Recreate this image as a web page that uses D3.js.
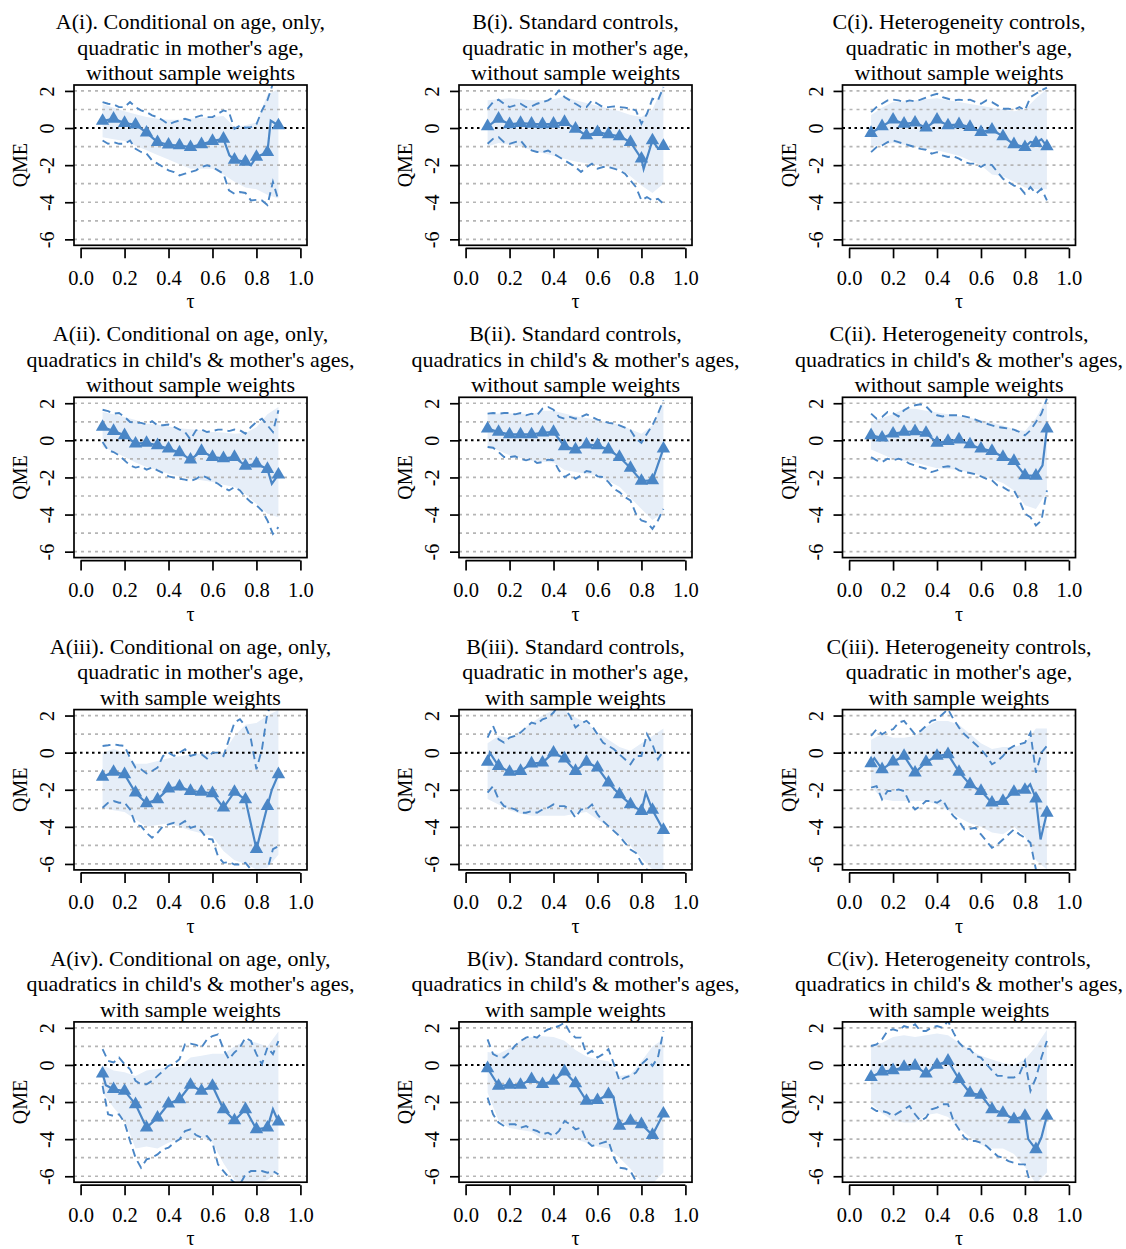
<!DOCTYPE html>
<html>
<head>
<meta charset="utf-8">
<script src="https://cdn.jsdelivr.net/npm/d3@7"></script>
<style>
  body { margin: 0; background: #fff; }
  text { font-family: "Liberation Serif", serif; fill: #000; }
</style>
</head>
<body>
<svg id="chart" width="1126" height="1249"></svg>
<script>
// quantiles where the point estimates are plotted
const taus = [0.10, 0.15, 0.20, 0.25, 0.30, 0.35, 0.40, 0.45, 0.50, 0.55, 0.60, 0.65, 0.70, 0.75, 0.80, 0.85, 0.90];
// finer grid for the dashed pointwise intervals
const tausFine = [0.100, 0.125, 0.150, 0.175, 0.200, 0.225, 0.250, 0.275, 0.300, 0.325, 0.350, 0.375, 0.400, 0.425, 0.450, 0.475, 0.500,
  0.525, 0.550, 0.575, 0.600, 0.625, 0.650, 0.675, 0.700, 0.725, 0.750, 0.775, 0.800, 0.825, 0.850, 0.875, 0.900];
const xTicks = [0, 0.2, 0.4, 0.6, 0.8, 1.0];
const yTicks = [-6, -4, -2, 0, 2];
const gridLevels = [-6, -5, -4, -3, -2, -1, 1, 2];

const colLetters = ["A", "B", "C"];
const colHeads = ["Conditional on age, only,", "Standard controls,", "Heterogeneity controls,"];
const rowNums = ["i", "ii", "iii", "iv"];
const rowLine2 = ["quadratic in mother's age,", "quadratics in child's & mother's ages,", "quadratic in mother's age,", "quadratics in child's & mother's ages,"];
const rowLine3 = ["without sample weights", "without sample weights", "with sample weights", "with sample weights"];

// ---- A(i)
const estA1 = [0.38, 0.5, 0.27, 0.18, -0.25, -0.76, -0.9, -0.94, -1.03, -0.88, -0.7, -0.58, -1.71, -1.82, -1.56, -1.3, 0.14];
const kinkA1 = [[0.677, -1.47], [0.775, -2.0], [0.865, 0.4]];
const upA1 = [1.4, 1.31, 1.28, 1.13, 1.13, 1.4, 1.13, 0.95, 0.86, 0.68, 0.59, 0.41, 0.2, 0.32, 0.41, 0.5, 0.41, 0.59, 0.68, 0.59, 0.59, 0.77, 0.95, 0.86, -0.04, 0.14, 0.02, 0.05, 0.2, 0.95, 1.5, 2.4, 2.9];
const loA1 = [-0.67, -0.85, -0.76, -0.85, -0.85, -0.67, -1.12, -1.29, -1.38, -1.74, -1.92, -2.1, -2.28, -2.37, -2.55, -2.46, -2.37, -2.28, -2.1, -2.01, -2.1, -2.28, -2.46, -3.36, -3.54, -3.45, -3.5, -3.9, -3.87, -3.9, -4.15, -2.9, -3.9];
const bandHiA1 = [1.3, 1.1, 0.9, 0.75, 0.6, 0.5, 0.45, 0.45, 0.5, 0.55, 0.6, 0.65, 0.05, 0.15, 0.3, 1.8, 2.1];
const bandLoA1 = [-0.5, -0.6, -0.7, -0.95, -1.2, -1.45, -1.7, -1.95, -2.2, -2.2, -2.2, -2.5, -2.9, -3.2, -3.3, -3.6, -3.8];

// ---- B(i)
const estB1 = [0.09, 0.5, 0.2, 0.27, 0.23, 0.2, 0.23, 0.32, -0.04, -0.4, -0.22, -0.34, -0.45, -0.76, -1.65, -0.67, -0.97];
const kinkB1 = [[0.81, -2.2], [0.875, -1.1]];
const upB1 = [1.04, 1.4, 1.53, 1.31, 1.13, 1.22, 1.31, 1.13, 1.17, 1.31, 1.4, 1.49, 1.67, 2.03, 1.67, 1.49, 1.31, 1.13, 1.13, 1.49, 1.31, 1.13, 1.13, 1.17, 1.13, 1.1, 1.04, 0.95, 0.23, 0.77, 1.58, 1.49, 2.2];
const loB1 = [-0.85, -0.58, -0.49, -0.76, -0.85, -0.76, -0.67, -1.03, -1.2, -1.29, -1.3, -1.21, -1.38, -1.56, -1.74, -1.92, -2.1, -2.37, -2.1, -1.92, -2.19, -2.1, -2.1, -2.19, -2.28, -2.46, -2.82, -3.18, -3.9, -3.72, -3.9, -3.81, -4.08];
const bandHiB1 = [1.5, 1.55, 1.6, 1.55, 1.5, 1.5, 1.55, 1.7, 1.5, 1.35, 1.2, 1.05, 0.9, 0.7, 0.6, 1.0, 2.3];
const bandLoB1 = [-1.0, -0.8, -0.9, -1.0, -1.2, -1.35, -1.5, -1.65, -1.8, -1.9, -2.0, -2.1, -2.2, -2.6, -3.1, -3.5, -3.0];

// ---- C(i)
const estC1 = [-0.27, 0.09, 0.45, 0.23, 0.29, 0.02, 0.45, 0.14, 0.2, 0.05, -0.22, -0.09, -0.45, -0.88, -1.03, -0.81, -0.99];
const kinkC1 = [[0.825, -0.75], [0.875, -0.6]];
const upC1 = [0.86, 1.13, 1.31, 1.49, 1.53, 1.49, 1.4, 1.49, 1.44, 1.53, 1.64, 1.76, 1.85, 1.67, 1.58, 1.49, 1.53, 1.49, 1.53, 1.4, 1.31, 1.49, 1.4, 1.22, 1.04, 1.04, 0.99, 1.13, 0.95, 1.67, 1.85, 2.03, 2.18];
const loC1 = [-1.3, -1.03, -0.94, -0.76, -0.67, -0.76, -0.85, -0.94, -1.03, -1.12, -1.17, -1.38, -1.3, -1.47, -1.56, -1.53, -1.65, -1.83, -1.92, -1.92, -2.1, -1.92, -2.0, -2.37, -2.73, -2.91, -3.1, -3.18, -3.54, -3.18, -3.54, -3.27, -3.9];
const bandHiC1 = [0.7, 1.1, 1.4, 1.45, 1.5, 1.55, 1.6, 1.5, 1.4, 1.3, 1.2, 1.1, 1.0, 0.9, 1.0, 1.6, 2.1];
const bandLoC1 = [-1.0, -0.9, -0.8, -0.9, -1.0, -1.1, -1.2, -1.35, -1.5, -1.75, -2.0, -2.5, -2.6, -2.9, -3.2, -3.3, -3.3];

// ---- A(ii)
const estA2 = [0.72, 0.5, 0.27, -0.18, -0.14, -0.27, -0.45, -0.65, -1.04, -0.58, -0.9, -0.97, -0.9, -1.37, -1.26, -1.55, -1.85];
const kinkA2 = [[0.87, -2.34]];
const upA2 = [1.65, 1.58, 1.44, 1.47, 1.26, 0.99, 0.95, 0.94, 0.86, 1.03, 0.81, 0.81, 0.85, 0.72, 0.58, 0.45, 0.04, 0.54, 0.58, 0.45, 0.5, 0.58, 0.58, 0.5, 0.58, 0.54, 0.36, 0.72, 0.99, 1.17, 0.81, 0.45, 1.62];
const loA2 = [-0.09, -0.54, -0.63, -0.81, -1.08, -1.35, -1.47, -1.4, -1.58, -1.47, -1.62, -1.76, -1.94, -2.01, -2.07, -2.12, -2.19, -2.08, -1.89, -2.01, -2.19, -2.34, -2.55, -2.7, -2.52, -2.7, -3.06, -3.33, -3.5, -3.78, -4.32, -5.04, -4.68];
const bandHiA2 = [1.53, 1.4, 1.26, 1.1, 0.9, 0.85, 0.75, 0.65, 0.6, 0.55, 0.45, 0.42, 0.36, 0.4, 0.7, 1.4, 1.8];
const bandLoA2 = [-0.36, -0.6, -0.9, -1.2, -1.44, -1.6, -1.8, -1.95, -2.07, -2.15, -2.25, -2.4, -2.52, -2.9, -3.42, -3.96, -4.14];

// ---- B(ii)
const estB2 = [0.63, 0.45, 0.32, 0.32, 0.32, 0.41, 0.45, -0.32, -0.5, -0.23, -0.27, -0.5, -0.9, -1.49, -2.19, -2.16, -0.45];
const kinkB2 = [];
const upB2 = [1.44, 1.47, 1.44, 1.47, 1.47, 1.4, 1.47, 1.35, 1.44, 1.35, 1.71, 1.8, 1.65, 1.26, 1.17, 1.26, 1.17, 1.26, 1.4, 1.26, 1.12, 1.04, 0.94, 0.9, 0.81, 0.68, 0.54, 0.09, -0.14, 0.36, 0.81, 1.44, 2.16];
const loB2 = [-0.36, -0.4, -0.63, -0.9, -0.9, -0.86, -0.99, -1.08, -0.99, -1.22, -1.17, -1.04, -1.08, -1.62, -1.98, -1.8, -2.07, -1.89, -1.65, -1.71, -1.94, -1.98, -2.25, -2.61, -2.79, -3.06, -3.24, -3.96, -4.32, -4.41, -4.77, -4.32, -3.69];
const bandHiB2 = [1.4, 1.45, 1.45, 1.45, 1.4, 1.6, 1.6, 1.45, 1.3, 1.2, 1.1, 0.95, 0.85, 0.6, 0.35, 0.8, 2.2];
const bandLoB2 = [-0.3, -0.55, -0.8, -0.95, -1.1, -1.15, -1.2, -1.6, -1.7, -1.8, -1.9, -2.2, -2.5, -3.1, -3.7, -4.3, -3.9];

// ---- C(ii)
const estC2 = [0.27, 0.14, 0.36, 0.45, 0.49, 0.4, -0.14, -0.04, 0.04, -0.22, -0.45, -0.58, -0.9, -1.12, -1.89, -1.91, 0.63];
const kinkC2 = [[0.88, -1.35]];
const upC2 = [1.44, 1.17, 1.26, 1.53, 1.47, 1.29, 1.62, 1.8, 1.89, 1.94, 1.83, 1.53, 1.35, 1.29, 1.35, 1.35, 1.35, 1.29, 1.22, 1.12, 0.99, 0.9, 0.81, 0.72, 0.68, 0.63, 0.58, 0.45, 0.27, 0.54, 0.99, 1.44, 2.25];
const loC2 = [-0.9, -1.08, -1.17, -0.99, -1.08, -0.99, -1.08, -1.26, -1.35, -1.44, -1.53, -1.71, -1.62, -1.44, -1.4, -1.44, -1.62, -1.71, -1.76, -1.83, -1.94, -2.07, -2.16, -2.43, -2.52, -2.7, -2.7, -3.24, -3.96, -4.14, -4.59, -4.32, -2.7];
const bandHiC2 = [1.0, 1.2, 1.4, 1.7, 1.7, 1.6, 1.5, 1.4, 1.3, 1.2, 1.1, 0.95, 0.8, 0.6, 0.5, 1.2, 2.3];
const bandLoC2 = [-0.5, -0.75, -1.0, -1.1, -1.2, -1.35, -1.5, -1.55, -1.6, -1.75, -1.9, -2.1, -2.3, -2.7, -3.5, -3.7, -2.8];

// ---- A(iii)
const estA3 = [-1.3, -1.04, -1.17, -2.16, -2.73, -2.52, -1.94, -1.83, -2.07, -2.12, -2.19, -2.97, -2.12, -2.52, -5.2, -2.88, -1.17];
const kinkA3 = [[0.87, -2.0]];
const upA3 = [0.36, 0.4, 0.45, 0.4, 0.36, -0.3, -0.81, -0.9, -1.12, -0.99, -0.81, -0.18, 0.0, -0.18, 0.0, 0.18, -0.18, -0.09, -0.09, -0.32, 0.0, 0.0, -0.18, 0.72, 1.62, 1.8, 1.44, 0.72, -0.9, 0.18, 2.16, 2.7, 3.5];
const loA3 = [-2.97, -2.7, -2.61, -2.7, -2.7, -3.06, -3.87, -3.96, -4.32, -4.59, -4.32, -3.96, -3.87, -3.78, -3.87, -3.69, -4.05, -3.96, -4.23, -4.64, -4.68, -5.58, -5.94, -5.9, -6.03, -6.03, -5.94, -6.3, -6.7, -6.7, -6.3, -5.2, -5.04];
const bandHiA3 = [0.0, 0.2, 0.0, -0.6, -0.6, -0.45, -0.3, -0.2, -0.1, -0.05, 0.0, 0.0, 0.9, 1.5, 1.6, 2.0, 2.3];
const bandLoA3 = [-3.0, -3.1, -3.2, -3.6, -4.0, -3.9, -3.8, -4.0, -4.2, -4.35, -4.5, -5.3, -5.8, -6.0, -6.3, -6.2, -5.5];

// ---- B(iii)
const estB3 = [-0.5, -0.72, -1.04, -0.99, -0.59, -0.54, 0.0, -0.32, -0.99, -0.5, -0.81, -1.62, -2.25, -2.79, -3.15, -3.09, -4.17];
const kinkB3 = [[0.11, 0.0], [0.82, -2.16]];
const upB3 = [0.81, 1.44, 0.72, 0.54, 0.81, 0.9, 1.08, 1.35, 1.62, 1.53, 1.8, 1.89, 2.16, 2.6, 2.4, 1.98, 1.35, 1.58, 1.71, 1.44, 0.99, 0.54, 0.36, 0.18, -0.09, -0.36, -0.63, -0.18, -0.18, 1.0, 0.45, -0.36, 0.09];
const loB3 = [-2.16, -1.8, -2.52, -2.88, -2.97, -3.06, -3.24, -3.24, -3.15, -3.24, -3.06, -2.97, -2.79, -2.88, -2.88, -3.06, -3.51, -3.06, -3.06, -2.79, -3.33, -3.69, -3.96, -4.23, -4.5, -4.86, -5.22, -5.4, -5.94, -6.3, -6.8, -7.2, -7.5];
const bandHiB3 = [0.5, 0.9, 0.8, 1.2, 1.6, 2.0, 2.3, 2.3, 1.9, 1.6, 1.1, 0.7, 0.3, 0.1, 0.5, 0.9, 1.3];
const bandLoB3 = [-2.5, -2.8, -3.1, -3.3, -3.4, -3.4, -3.4, -3.4, -3.3, -3.2, -3.6, -4.0, -4.5, -5.0, -5.7, -6.3, -6.3];

// ---- C(iii)
const estC3 = [-0.58, -0.9, -0.49, -0.18, -1.08, -0.5, -0.18, -0.09, -1.04, -1.71, -2.07, -2.7, -2.61, -2.12, -2.01, -2.48, -3.24];
const kinkC3 = [[0.115, -0.3], [0.824, -1.71], [0.871, -4.68]];
const upC3 = [0.9, 1.26, 0.99, 1.17, 1.26, 1.62, 1.71, 1.35, 0.99, 1.17, 1.44, 1.71, 1.8, 2.07, 2.34, 1.8, 1.35, 0.99, 0.72, 0.45, 0.18, -0.18, -0.63, -0.45, -0.18, 0.18, 0.36, 0.45, 0.54, 1.08, -1.08, 0.0, 0.36];
const loC3 = [-1.89, -1.8, -2.52, -2.07, -2.07, -1.98, -2.07, -2.7, -3.06, -2.88, -2.61, -2.61, -2.7, -2.52, -3.06, -3.42, -3.69, -4.14, -4.1, -4.05, -4.41, -4.77, -5.13, -4.95, -4.68, -4.41, -4.14, -4.41, -4.59, -4.86, -6.3, -7.0, -7.0];
const bandHiC3 = [0.7, 1.0, 0.8, 0.8, 0.9, 1.4, 1.7, 1.7, 1.5, 1.0, 0.5, 0.2, 0.3, 0.3, 0.5, 1.3, 1.3];
const bandLoC3 = [-1.8, -2.5, -2.6, -2.6, -2.6, -2.6, -2.8, -3.1, -3.5, -3.8, -4.0, -4.3, -4.4, -4.0, -4.5, -5.8, -6.3];

// ---- A(iv)
const estA4 = [-0.47, -1.31, -1.4, -2.12, -3.38, -2.84, -2.09, -1.85, -1.08, -1.4, -1.13, -2.39, -2.99, -2.39, -3.47, -3.38, -3.06];
const kinkA4 = [[0.115, -1.1], [0.875, -2.39]];
const upA4 = [0.85, 0.22, 0.13, 0.4, 0.04, -0.23, -0.86, -1.04, -1.04, -0.86, -0.59, -0.32, -0.05, 0.07, 0.31, 1.11, 1.15, 1.08, 0.94, 1.38, 1.56, 1.65, 0.85, 0.31, 0.67, 0.94, 1.47, 1.29, 0.58, 0.04, 0.94, 0.58, 1.29];
const loA4 = [-1.13, -2.66, -2.75, -2.66, -3.11, -4.1, -5.0, -5.54, -5.09, -5.0, -4.82, -4.55, -4.46, -4.19, -4.01, -3.56, -3.47, -3.78, -3.92, -3.83, -4.19, -5.36, -5.72, -6.08, -6.35, -6.44, -5.9, -5.72, -5.72, -5.72, -5.81, -5.72, -5.9];
const bandHiA4 = [0.0, -0.3, -0.4, -0.6, -0.3, -0.2, -0.15, -0.1, 0.4, 0.5, 0.6, 0.6, 1.0, 1.3, 1.2, 1.0, 1.8];
const bandLoA4 = [-1.5, -2.3, -3.0, -4.5, -4.4, -4.5, -4.2, -4.0, -4.0, -3.9, -4.2, -5.3, -6.2, -6.4, -6.4, -6.2, -5.7];

// ---- B(iv)
const estB4 = [-0.18, -1.13, -1.08, -1.08, -0.77, -1.04, -0.86, -0.36, -1.0, -1.94, -1.9, -1.58, -3.29, -3.02, -3.2, -3.78, -2.63];
const kinkB4 = [[0.672, -1.7]];
const upB4 = [1.38, 0.58, 0.43, 0.4, 0.67, 1.04, 1.29, 1.47, 1.56, 1.47, 1.74, 1.92, 2.0, 2.1, 2.28, 1.74, 1.47, 1.47, 0.58, 0.76, 0.4, 0.58, 0.85, 0.04, -0.86, -0.68, -0.59, -0.41, 0.04, 0.31, -0.05, 0.4, 1.83];
const loB4 = [-1.76, -2.66, -3.11, -3.29, -3.2, -3.2, -3.38, -3.29, -3.47, -3.56, -3.74, -3.65, -3.83, -3.56, -3.02, -3.2, -3.47, -3.38, -4.1, -4.37, -4.28, -4.19, -4.1, -5.0, -5.54, -5.58, -5.72, -6.26, -6.7, -7.0, -7.0, -7.0, -7.0];
const bandHiB4 = [0.7, 0.6, 0.9, 1.3, 1.5, 1.55, 1.5, 1.3, 0.8, 0.45, 0.3, 0.2, -0.6, -0.5, 0.2, 1.0, 1.4];
const bandLoB4 = [-1.5, -3.0, -3.4, -3.5, -3.6, -4.0, -4.0, -4.0, -4.0, -4.2, -4.4, -4.5, -5.0, -5.6, -6.3, -6.4, -5.8];

// ---- C(iv)
const estC4 = [-0.65, -0.36, -0.29, -0.11, -0.05, -0.47, 0.0, 0.22, -0.77, -1.51, -1.62, -2.39, -2.59, -2.93, -2.75, -4.55, -2.75];
const kinkC4 = [[0.815, -4.0], [0.875, -3.9]];
const upC4 = [1.02, 1.11, 1.38, 1.83, 1.92, 1.83, 2.1, 2.01, 2.19, 1.83, 1.83, 2.01, 2.1, 2.01, 2.37, 1.74, 1.2, 0.9, 0.85, 0.49, 0.4, 0.04, -0.29, -0.59, -0.59, -0.68, -0.68, -0.5, 0.22, -1.4, -0.7, 0.4, 1.29];
const loC4 = [-2.3, -2.48, -2.48, -2.57, -2.75, -2.57, -2.39, -2.21, -2.66, -3.02, -2.84, -2.39, -2.3, -2.12, -2.12, -3.02, -3.47, -3.92, -4.1, -4.1, -4.19, -4.37, -4.64, -4.91, -5.0, -5.18, -5.27, -5.36, -5.36, -6.4, -7.0, -7.0, -7.0];
const bandHiC4 = [1.1, 1.2, 1.5, 1.6, 1.5, 1.6, 1.7, 1.6, 1.2, 0.8, 0.5, 0.3, 0.1, 0.0, 0.3, 1.0, 1.9];
const bandLoC4 = [-2.1, -2.6, -3.0, -3.1, -3.1, -2.7, -2.6, -2.8, -3.4, -3.9, -4.3, -4.5, -4.5, -4.8, -5.5, -6.4, -5.8];

const panels = [
  { est: estA1, kink: kinkA1, up: upA1, lo: loA1, hi: bandHiA1, lw: bandLoA1 },
  { est: estB1, kink: kinkB1, up: upB1, lo: loB1, hi: bandHiB1, lw: bandLoB1 },
  { est: estC1, kink: kinkC1, up: upC1, lo: loC1, hi: bandHiC1, lw: bandLoC1 },
  { est: estA2, kink: kinkA2, up: upA2, lo: loA2, hi: bandHiA2, lw: bandLoA2 },
  { est: estB2, kink: kinkB2, up: upB2, lo: loB2, hi: bandHiB2, lw: bandLoB2 },
  { est: estC2, kink: kinkC2, up: upC2, lo: loC2, hi: bandHiC2, lw: bandLoC2 },
  { est: estA3, kink: kinkA3, up: upA3, lo: loA3, hi: bandHiA3, lw: bandLoA3 },
  { est: estB3, kink: kinkB3, up: upB3, lo: loB3, hi: bandHiB3, lw: bandLoB3 },
  { est: estC3, kink: kinkC3, up: upC3, lo: loC3, hi: bandHiC3, lw: bandLoC3 },
  { est: estA4, kink: kinkA4, up: upA4, lo: loA4, hi: bandHiA4, lw: bandLoA4 },
  { est: estB4, kink: kinkB4, up: upB4, lo: loB4, hi: bandHiB4, lw: bandLoB4 },
  { est: estC4, kink: kinkC4, up: upC4, lo: loC4, hi: bandHiC4, lw: bandLoC4 }
];

const colX = [74, 459, 842.5];
const rowY = [85, 397.3, 709.6, 1021.9];
const boxW = 233, boxH = 160.3;
const blue = "#4a86c6";
const bandFill = "#e6eef8";

const svg = d3.select("#chart");

panels.forEach((p, i) => {
  const r = Math.floor(i / 3), c = i % 3;
  const x0 = colX[c], y0 = rowY[r];
  const x = d3.scaleLinear().domain([-0.03, 1.03]).range([x0, x0 + boxW]);
  const y = d3.scaleLinear().domain([-6.32, 2.32]).range([y0 + boxH, y0]);
  const g = svg.append("g");

  g.append("clipPath").attr("id", "clip" + i)
    .append("rect").attr("x", x0).attr("y", y0).attr("width", boxW).attr("height", boxH);
  const plot = g.append("g").attr("clip-path", `url(#clip${i})`);

  // bootstrap band
  const band = d3.area().x(d => x(d[0])).y0(d => y(d[1])).y1(d => y(d[2]));
  plot.append("path")
    .datum(taus.map((t, k) => [t, p.lw[k], p.hi[k]]))
    .attr("d", band).attr("fill", bandFill);

  // grid
  plot.selectAll("line.grid").data(gridLevels).join("line")
    .attr("class", "grid")
    .attr("x1", x0).attr("x2", x0 + boxW)
    .attr("y1", d => y(d)).attr("y2", d => y(d))
    .attr("stroke", "#b5b5b5").attr("stroke-width", 1.7).attr("stroke-dasharray", "3,4");
  plot.append("line")
    .attr("x1", x0).attr("x2", x0 + boxW).attr("y1", y(0)).attr("y2", y(0))
    .attr("stroke", "#000").attr("stroke-width", 2).attr("stroke-dasharray", "2.5,3.5");

  // pointwise intervals
  const line = d3.line().x(d => x(d[0])).y(d => y(d[1]));
  [p.up, p.lo].forEach(arr => {
    plot.append("path")
      .datum(tausFine.map((t, k) => [t, arr[k]]))
      .attr("d", line).attr("fill", "none")
      .attr("stroke", blue).attr("stroke-width", 1.9).attr("stroke-dasharray", "8,5");
  });

  // estimates
  const pts = taus.map((t, k) => [t, p.est[k]]).concat(p.kink).sort((a, b) => a[0] - b[0]);
  plot.append("path").datum(pts).attr("d", line).attr("fill", "none")
    .attr("stroke", blue).attr("stroke-width", 2.2);
  const tri = d3.symbol(d3.symbolTriangle, 78);
  g.selectAll("path.mk").data(taus.map((t, k) => [t, p.est[k]])).join("path")
    .attr("class", "mk")
    .attr("d", tri)
    .attr("transform", d => `translate(${x(d[0])},${y(d[1])})`)
    .attr("fill", blue);

  // box
  g.append("rect").attr("x", x0).attr("y", y0).attr("width", boxW).attr("height", boxH)
    .attr("fill", "none").attr("stroke", "#000").attr("stroke-width", 1.7);

  // y axis
  const ya = g.append("g").attr("transform", `translate(${x0},0)`)
    .call(d3.axisLeft(y).tickValues(yTicks).tickSize(9).tickFormat(d => String(d)));
  ya.select(".domain").remove();
  ya.selectAll(".tick line").attr("stroke", "#000").attr("stroke-width", 1.7);
  ya.selectAll(".tick text")
    .attr("x", null).attr("dy", null)
    .attr("text-anchor", "middle")
    .attr("transform", "translate(-20,0) rotate(-90)")
    .style("font-size", "20px").style("font-family", "Liberation Serif, serif").attr("fill", "#000");

  // x axis
  const xa = g.append("g").attr("transform", `translate(0,${y0 + boxH + 3})`)
    .call(d3.axisBottom(x).tickValues(xTicks).tickSize(10).tickPadding(12).tickFormat(d3.format(".1f")));
  xa.select(".domain").remove();
  xa.append("line").attr("x1", x(0)).attr("x2", x(1)).attr("stroke", "#000").attr("stroke-width", 1.7);
  xa.selectAll(".tick line").attr("stroke", "#000").attr("stroke-width", 1.7);
  xa.selectAll(".tick text")
    .style("font-size", "20.5px").style("font-family", "Liberation Serif, serif").attr("fill", "#000");

  // labels
  const cx = x0 + boxW / 2;
  g.append("text").attr("x", cx).attr("y", y0 + boxH + 63).attr("text-anchor", "middle")
    .style("font-size", "20px").text("τ");
  g.append("text").attr("transform", `translate(${x0 - 47},${y0 + boxH / 2}) rotate(-90)`)
    .attr("text-anchor", "middle").style("font-size", "20px").text("QME");

  const titles = [`${colLetters[c]}(${rowNums[r]}). ${colHeads[c]}`, rowLine2[r], rowLine3[r]];
  g.selectAll("text.title").data(titles).join("text")
    .attr("class", "title")
    .attr("x", cx).attr("y", (d, k) => y0 - 56 + k * 25.5)
    .attr("text-anchor", "middle").style("font-size", "22px")
    .text(d => d);
});
</script>
</body>
</html>
